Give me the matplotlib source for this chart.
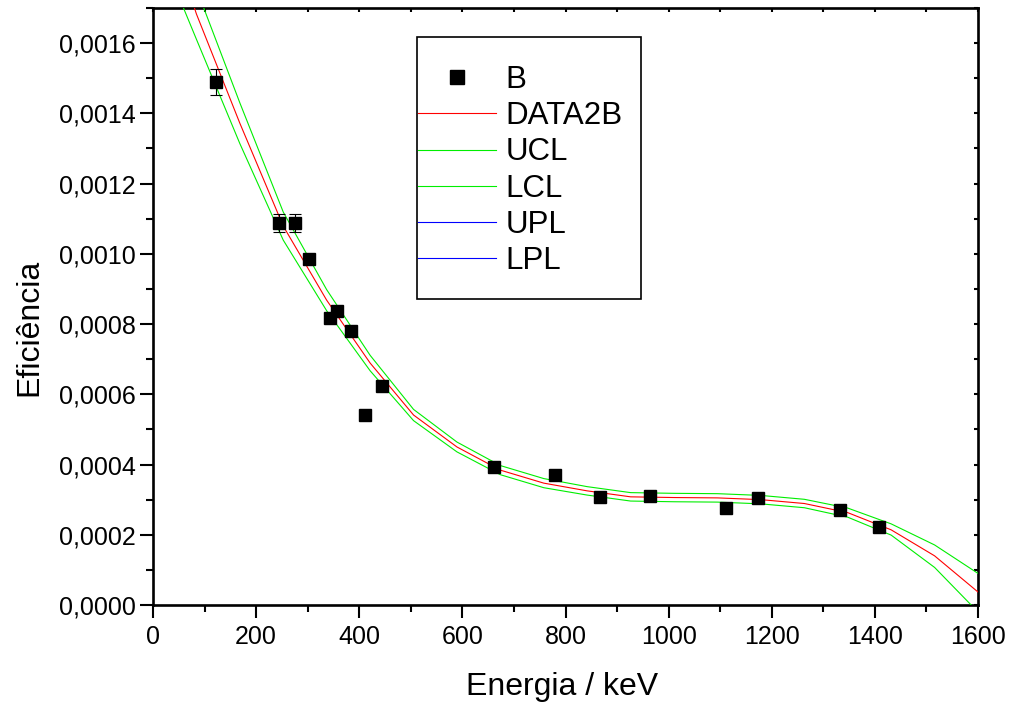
import matplotlib
matplotlib.use("Agg")
import matplotlib.pyplot as plt
from matplotlib.patches import Rectangle
from matplotlib.ticker import MultipleLocator, FuncFormatter

# ---- data ----
energy = [122, 245, 276, 303, 344, 356, 384, 411, 444, 662, 779, 867, 964, 1112, 1173, 1332, 1408]
efficiency = [0.001489, 0.001088, 0.001088, 0.000985, 0.000816, 0.000837, 0.000781, 0.000542,
              0.000623, 0.000393, 0.000370, 0.000308, 0.000310, 0.000275, 0.000304, 0.000270, 0.000223]
eff_err = [0.000038, 0.000026, 0.000026, 0.000008, 0.000006, 0.000006, 0.000006, 0.000006,
           0.000006, 0.000005, 0.000005, 0.000005, 0.000005, 0.000005, 0.000005, 0.000005, 0.000005]

fit_x = [0, 84.2, 168.4, 252.6, 336.8, 421.1, 505.3, 589.5, 673.7, 757.9, 842.1, 926.3,
         1010.5, 1094.7, 1178.9, 1263.2, 1347.4, 1431.6, 1515.8, 1600]
fit_y = [0.002060, 0.001683, 0.001372, 0.001079, 0.000868, 0.000689, 0.000541, 0.000450,
         0.000384, 0.000347, 0.000325, 0.000308, 0.000306, 0.000305, 0.000300, 0.000289,
         0.000263, 0.000214, 0.000140, 0.000037]
ucl_y = [0.002210, 0.001755, 0.001430, 0.001119, 0.000898, 0.000711, 0.000557, 0.000464,
         0.000397, 0.000360, 0.000337, 0.000320, 0.000318, 0.000317, 0.000312, 0.000301,
         0.000276, 0.000231, 0.000171, 0.000090]
lcl_y = [0.001910, 0.001611, 0.001314, 0.001039, 0.000838, 0.000667, 0.000525, 0.000436,
         0.000371, 0.000334, 0.000313, 0.000296, 0.000294, 0.000293, 0.000288, 0.000277,
         0.000250, 0.000199, 0.000107, -0.000020]

legend_labels = ["B", "DATA2B", "UCL", "LCL", "UPL", "LPL"]

plt.rcParams["font.family"] = ["Liberation Sans", "DejaVu Sans"]

W, H = 1010, 706
fig = plt.figure(figsize=(W / 100, H / 100), dpi=100)
L, R, T, B = 153, 978, 8, 605
ax = fig.add_axes([L / W, 1 - B / H, (R - L) / W, (B - T) / H])

ax.plot(fit_x, fit_y, color="#ff0000", lw=0.8, label=legend_labels[1], zorder=3)
ax.plot(fit_x, ucl_y, color="#00ee00", lw=0.8, label=legend_labels[2], zorder=3)
ax.plot(fit_x, lcl_y, color="#00ee00", lw=0.8, label=legend_labels[3], zorder=3)
ax.plot([], [], color="#0000ff", lw=0.8, label=legend_labels[4])
ax.plot([], [], color="#0000ff", lw=0.8, label=legend_labels[5])
ax.errorbar(energy, efficiency, yerr=eff_err, fmt="none",
            ecolor="black", elinewidth=0.8, capsize=4.5, capthick=0.8, zorder=4)
ax.plot(energy, efficiency, "s", color="black", ms=8.5, label=legend_labels[0], zorder=4)

ax.set_xlim(0, 1600)
ax.set_ylim(0, 0.0017)

for s in ax.spines.values():
    s.set_linewidth(1.9)

ax.xaxis.set_major_locator(MultipleLocator(200))
ax.xaxis.set_minor_locator(MultipleLocator(100))
ax.yaxis.set_major_locator(MultipleLocator(0.0002))
ax.yaxis.set_minor_locator(MultipleLocator(0.0001))
ax.yaxis.set_major_formatter(FuncFormatter(lambda v, p: f"{v:.4f}".replace(".", ",").replace("-", "")))

ax.tick_params(which="major", direction="out", length=9.5, width=1.5, labelsize=18, pad=3)
ax.tick_params(which="minor", direction="out", length=5, width=1.5)
ax.tick_params(axis="x", which="major", pad=5)

# inward ticks on top and right
axt = ax.secondary_xaxis("top")
axt.xaxis.set_major_locator(MultipleLocator(100))
axt.tick_params(direction="in", length=3, width=1.5, labeltop=False)
axr = ax.secondary_yaxis("right")
axr.yaxis.set_major_locator(MultipleLocator(0.0001))
axr.tick_params(direction="in", length=3, width=1.5, labelright=False)

ax.set_xlabel("Energia / keV", fontsize=23)
ax.set_ylabel("Eficiência", fontsize=23)
ax.xaxis.set_label_coords((562 - L) / (R - L), (B - 672) / (B - T))
ax.yaxis.set_label_coords((44 - L) / (R - L), (B - 327) / (B - T))

# legend frame
fx0, fx1, fy0, fy1 = 416.7, 641, 37.3, 299
ax.add_patch(Rectangle(((fx0 - L) / (R - L), (B - fy1) / (B - T)),
                       (fx1 - fx0) / (R - L), (fy1 - fy0) / (B - T),
                       transform=ax.transAxes, fill=True, facecolor="white",
                       edgecolor="black", lw=1.2, zorder=5))
handles, labels = ax.get_legend_handles_labels()
order = [labels.index(l) for l in legend_labels]
leg = ax.legend([handles[i] for i in order], [labels[i] for i in order],
                loc="upper left", bbox_to_anchor=((418 - L) / (R - L), (B - 65) / (B - T)),
                frameon=False, fontsize=22.5, borderpad=0, borderaxespad=0,
                handlelength=2.5, handletextpad=0.29, labelspacing=0.2, markerscale=1.25)
leg.set_zorder(6)

fig.savefig("out.png", dpi=100)
